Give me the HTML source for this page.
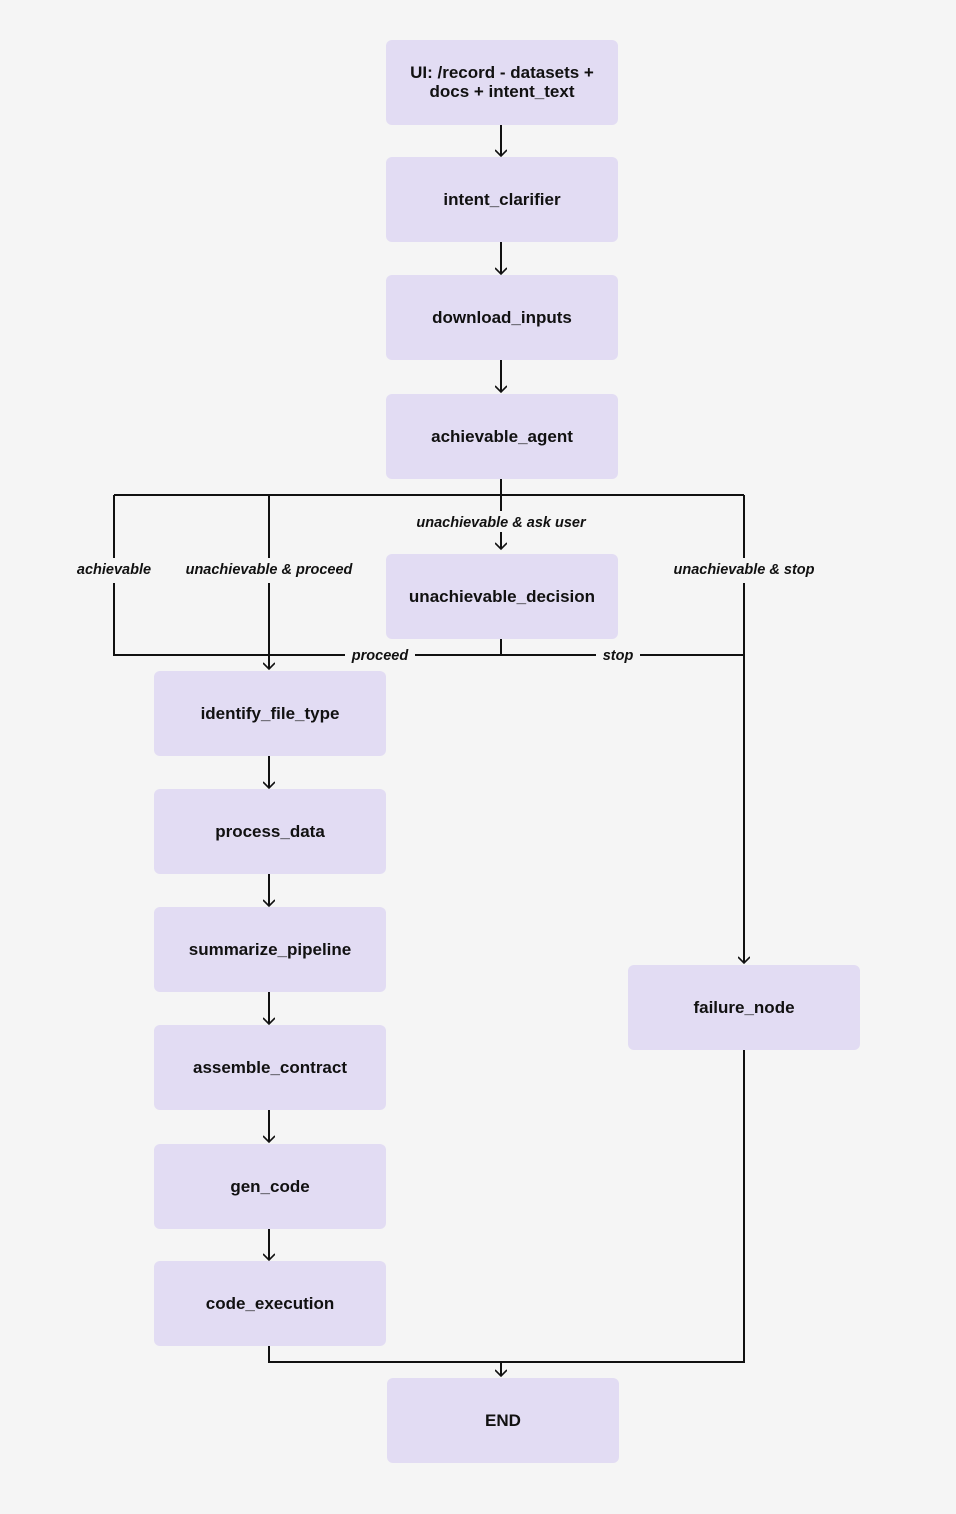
<!DOCTYPE html>
<html><head><style>html,body{margin:0;padding:0;background:#f5f5f5}svg{display:block}</style></head><body>
<svg width="956" height="1514" viewBox="0 0 956 1514" xmlns="http://www.w3.org/2000/svg" font-family="Liberation Sans, sans-serif">
<rect width="956" height="1514" fill="#f5f5f5"/>
<defs><marker id="a" viewBox="0 0 12 12" refX="10" refY="6" markerWidth="12" markerHeight="12" markerUnits="userSpaceOnUse" orient="auto"><path d="M4,0 L10,6 L4,12" fill="none" stroke="#111" stroke-width="1.6"/></marker></defs>
<g fill="#e2dcf3">
<rect x="386" y="40" width="232" height="85" rx="6"/>
<rect x="386" y="157" width="232" height="85" rx="6"/>
<rect x="386" y="275" width="232" height="85" rx="6"/>
<rect x="386" y="394" width="232" height="85" rx="6"/>
<rect x="386" y="554" width="232" height="85" rx="6"/>
<rect x="154" y="671" width="232" height="85" rx="6"/>
<rect x="154" y="789" width="232" height="85" rx="6"/>
<rect x="154" y="907" width="232" height="85" rx="6"/>
<rect x="154" y="1025" width="232" height="85" rx="6"/>
<rect x="154" y="1144" width="232" height="85" rx="6"/>
<rect x="154" y="1261" width="232" height="85" rx="6"/>
<rect x="628" y="965" width="232" height="85" rx="6"/>
<rect x="387" y="1378" width="232" height="85" rx="6"/>
</g>
<g stroke="#111" stroke-width="2" fill="none">
<path d="M501 125V156" marker-end="url(#a)"/>
<path d="M501 242V274" marker-end="url(#a)"/>
<path d="M501 360V392" marker-end="url(#a)"/>
<path d="M501 479V511"/>
<path d="M501 532V549" marker-end="url(#a)"/>
<path d="M114 495H744"/>
<path d="M114 495V558M114 583V655H345M415 655H596M640 655H744"/>
<path d="M269 495V558M269 583V669" marker-end="url(#a)"/>
<path d="M744 495V558M744 583V963" marker-end="url(#a)"/>
<path d="M501 639V655"/>
<path d="M269 756V788" marker-end="url(#a)"/>
<path d="M269 874V906" marker-end="url(#a)"/>
<path d="M269 992V1024" marker-end="url(#a)"/>
<path d="M269 1110V1142" marker-end="url(#a)"/>
<path d="M269 1229V1260" marker-end="url(#a)"/>
<path d="M269 1346V1362H744V1050"/>
<path d="M501 1362V1376" marker-end="url(#a)"/>
</g>
<g font-weight="bold" font-size="17" fill="#111" text-anchor="middle">
<text x="502" y="78">UI: /record - datasets +</text>
<text x="502" y="97">docs + intent_text</text>
<text x="502" y="205">intent_clarifier</text>
<text x="502" y="323">download_inputs</text>
<text x="502" y="442">achievable_agent</text>
<text x="502" y="602">unachievable_decision</text>
<text x="270" y="719">identify_file_type</text>
<text x="270" y="837">process_data</text>
<text x="270" y="955">summarize_pipeline</text>
<text x="270" y="1073">assemble_contract</text>
<text x="270" y="1192">gen_code</text>
<text x="270" y="1309">code_execution</text>
<text x="744" y="1013">failure_node</text>
<text x="503" y="1426">END</text>
</g>
<g font-weight="bold" font-style="italic" font-size="14.5" fill="#111" text-anchor="middle">
<text x="501" y="527">unachievable &amp; ask user</text>
<text x="114" y="574">achievable</text>
<text x="269" y="574">unachievable &amp; proceed</text>
<text x="744" y="574">unachievable &amp; stop</text>
<text x="380" y="660">proceed</text>
<text x="618" y="660">stop</text>
</g>
</svg>
</body></html>
